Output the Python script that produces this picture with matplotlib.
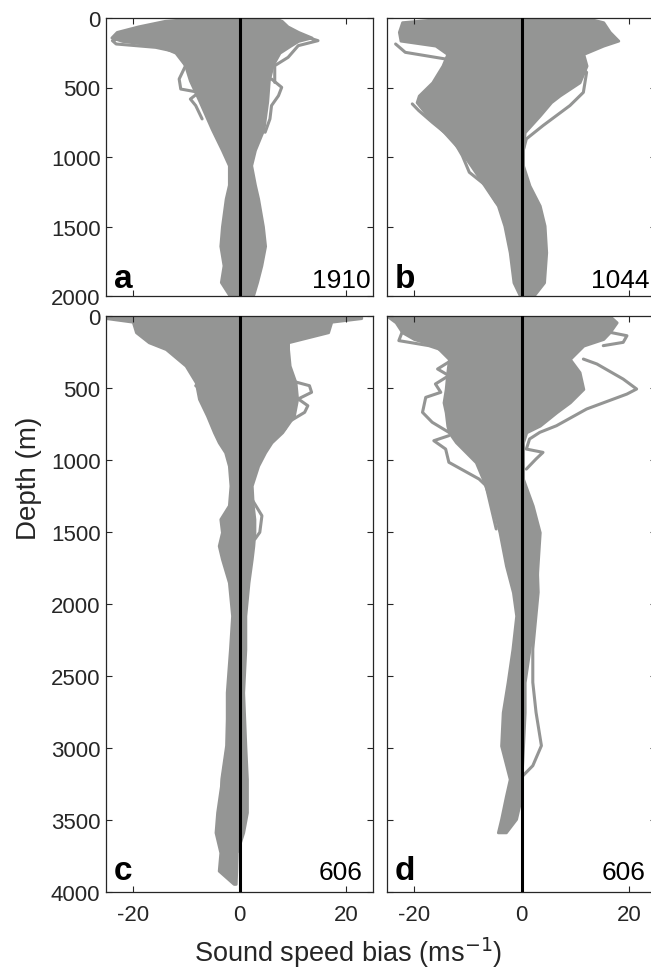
import matplotlib
matplotlib.use("Agg")
import matplotlib.pyplot as plt

plt.rcParams['font.family'] = ['Liberation Sans', 'DejaVu Sans']
plt.rcParams['axes.unicode_minus'] = False

GRAY = '#949594'

# Panel a: envelope of all profiles (depth, left edge, right edge) + outlier profiles
A_DEPTH = [0, 20, 60, 100, 140, 165, 200, 250, 340, 450, 600, 800, 950, 1060, 1200, 1300, 1500, 1640, 1780, 1900, 1990]
A_LEFT = [-7.6, -14, -19, -23, -24, -22, -15, -12, -10.2, -9.3, -7.5, -5.2, -3.3, -2.0, -2.0, -2.6, -3.3, -3.6, -3.0, -3.5, -2.0]
A_RIGHT = [6.6, 7.9, 9, 11, 13.5, 11, 9.5, 7.5, 6.2, 5.5, 5.2, 4.5, 2.9, 2.2, 2.9, 3.5, 4.4, 4.8, 4.1, 3.3, 2.6]
A_OUT = [
    ([-10.1, -20.0, -23.8, -23.1, -15.7, -11.3, -10.1], [43, 115, 163, 187, 211, 247, 343]),
    ([-10.1, -11.3, -11.0, -7.6, -9.2, -8.2, -7.0], [343, 439, 511, 535, 583, 630, 726]),
    ([3.5, 9.7, 14.7, 11.0, 9.1, 6.6, 6.6], [7, 103, 163, 199, 283, 343, 463]),
    ([6.0, 7.9, 7.3, 6.0, 5.7, 4.8], [439, 499, 559, 630, 726, 822]),
]

# Panel b
B_DEPTH = [0, 30, 100, 163, 199, 259, 343, 463, 558, 606, 702, 822, 942, 1062, 1206, 1350, 1494, 1686, 1902, 1991]
B_LEFT = [-13.5, -22.2, -22.8, -22.5, -16.0, -13.8, -14.7, -16.6, -19.1, -19.5, -17.5, -14.4, -11.6, -9.4, -6.9, -4.4, -3.2, -2.2, -1.5, -0.4]
B_RIGHT = [12.1, 15.2, 16.4, 18.0, 15.2, 11.5, 12.1, 10.8, 7.1, 5.5, 3.4, 0.6, 0.3, 0.3, 1.5, 3.4, 4.3, 4.6, 4.2, 2.4]
B_OUT = [
    ([-23.4, -21.6, -14.1, -13.1], [187, 247, 295, 343]),
    ([-20.3, -19.1, -16.6, -12.8, -11.0, -9.7, -6.6, -4.7], [618, 666, 750, 870, 990, 1110, 1206, 1326]),
    ([10.2, 12.1, 11.5, 9.0, 4.0, 0.9, 0.4], [319, 391, 535, 630, 774, 870, 942]),
]

# Panel c
C_DEPTH = [0, 15, 40, 113, 183, 230, 345, 461, 576, 692, 808, 878, 947, 1040, 1178, 1315, 1410, 1502, 1595, 1688, 1850, 2081, 2313, 2614, 2984, 3216, 3447, 3586, 3726, 3852, 3944]
C_LEFT = [-25, -25, -20, -19.4, -17.0, -13.8, -10.1, -8.2, -7.6, -6.1, -4.8, -3.9, -2.7, -2.0, -1.7, -2.0, -3.6, -3.3, -3.9, -3.3, -2.0, -1.4, -1.8, -2.4, -2.4, -3.3, -4.2, -4.5, -3.6, -3.9, -1.1]
C_RIGHT = [22.8, 22.8, 17.2, 16.6, 9.1, 9.1, 9.4, 10.5, 10.8, 10.2, 8.0, 6.0, 4.8, 3.5, 2.3, 2.5, 2.8, 2.8, 2.6, 2.3, 1.7, 1.1, 1.1, 0.7, 1.1, 1.4, 1.4, 0.7, -0.5, -0.6, -0.7]
C_OUT = [
    ([-6.4, -9.2, -8.2, -7.0, -8.2, -6.4], [333, 357, 414, 449, 484, 530]),
    ([8.5, 13.1, 13.5, 11.0, 12.8, 12.2, 9.1, 8.5], [438, 484, 530, 576, 623, 669, 738, 785]),
    ([2.3, 4.2, 3.8, 2.9], [1271, 1387, 1502, 1549]),
    ([-2.0, -2.4, -3.3, -3.4], [2521, 2984, 3216, 3343]),
]

# Panel d
D_DEPTH = [0, 44, 113, 160, 206, 299, 390, 507, 600, 669, 762, 808, 877, 1016, 1132, 1317, 1502, 1734, 1919, 2081, 2313, 2544, 2752, 2984, 3216, 3332, 3493, 3586]
D_LEFT = [-25, -23.4, -22.2, -20.0, -16.0, -13.5, -13.8, -14.1, -14.5, -14.1, -13.8, -13.5, -12.2, -8.5, -7.2, -5.4, -4.1, -2.9, -1.6, -1.0, -1.7, -2.6, -3.5, -3.8, -2.2, -2.9, -3.8, -4.4]
D_RIGHT = [16.4, 17.7, 16.4, 15.2, 11.5, 9.0, 10.8, 11.5, 9.0, 6.5, 3.4, 0.9, 0.3, 0.3, 0.3, 2.1, 3.4, 3.0, 2.7, 2.4, 1.5, 0.6, 0.6, 0.3, 0.0, 0.0, -1.0, -2.9]
D_OUT = [
    ([-22.5, -19.4, -22.2, -22.8, -17.2, -9.7], [44, 90, 113, 171, 206, 299]),
    ([-11.6, -15.6, -13.5, -16.0, -15.0, -17.8, -18.4, -16.6, -13.5], [275, 368, 414, 472, 530, 565, 669, 738, 808]),
    ([-13.5, -16.3, -14.1, -13.5, -7.9, -6.6, -4.7], [831, 866, 924, 1016, 1132, 1178, 1479]),
    ([11.5, 14.0, 18.9, 21.4, 19.6, 12.1, 6.5, 3.4, 1.5, 0.9, 4.0, 2.7, 0.9], [299, 333, 438, 507, 542, 646, 762, 808, 854, 924, 947, 993, 1063]),
    ([16.4, 19.6, 18.9, 15.2], [113, 137, 183, 206]),
    ([0.9, 2.7, 3.1, 2.1, 2.1, 2.7, 3.7, 2.1, 0.25], [1248, 1502, 1919, 2313, 2544, 2752, 2984, 3123, 3193]),
]

LETTERS = ['a', 'b', 'c', 'd']
COUNTS = ['1910', '1044', '606', '606']


def draw_panel(ax, depth, left, right, outliers, ymax, letter, count, count_x, text_y):
    ax.fill_betweenx(depth, left, right, color=GRAY, edgecolor=GRAY, lw=2, zorder=1)
    for xs, ds in outliers:
        ax.plot(xs, ds, color=GRAY, lw=2.2, solid_capstyle='round', zorder=2)
    ax.axvline(0, color='black', lw=2.2, zorder=3)
    ax.set_xlim(-25, 25)
    ax.set_ylim(ymax, 0)
    ax.set_xticks([-20, 0, 20])
    ax.set_yticks(range(0, ymax + 1, 500))
    ax.tick_params(direction='in', top=True, right=True, length=4, width=0.8,
                   labelsize=16, colors='#262626')
    ax.tick_params(axis='x', pad=9)
    ax.tick_params(axis='y', pad=4)
    for s in ax.spines.values():
        s.set_color('#262626')
        s.set_linewidth(0.9)
    ax.text(0.03, text_y, letter, transform=ax.transAxes,
            fontsize=24, fontweight='bold', ha='left', va='baseline')
    ax.text(count_x, text_y, count, transform=ax.transAxes,
            fontsize=19, ha='right', va='baseline')


fig = plt.figure(figsize=(6.51, 9.70), dpi=100)
W, H = 651.0, 970.0
ax_a = fig.add_axes([106 / W, 1 - 297 / H, 267 / W, 278 / H])
ax_b = fig.add_axes([387 / W, 1 - 297 / H, 269 / W, 278 / H])
ax_c = fig.add_axes([106 / W, 1 - 893 / H, 267 / W, 576 / H])
ax_d = fig.add_axes([387 / W, 1 - 893 / H, 269 / W, 576 / H])

draw_panel(ax_a, A_DEPTH, A_LEFT, A_RIGHT, A_OUT, 2000, LETTERS[0], COUNTS[0], 0.992, 0.032)
draw_panel(ax_b, B_DEPTH, B_LEFT, B_RIGHT, B_OUT, 2000, LETTERS[1], COUNTS[1], 0.975, 0.032)
draw_panel(ax_c, C_DEPTH, C_LEFT, C_RIGHT, C_OUT, 4000, LETTERS[2], COUNTS[2], 0.962, 0.0226)
draw_panel(ax_d, D_DEPTH, D_LEFT, D_RIGHT, D_OUT, 4000, LETTERS[3], COUNTS[3], 0.962, 0.0226)

ax_a.tick_params(labelbottom=False)
ax_b.tick_params(labelbottom=False, labelleft=False)
ax_d.tick_params(labelleft=False)

fig.text(29.5 / W, 1 - 478 / H, 'Depth (m)', rotation=90, fontsize=20,
         ha='center', va='center', color='#262626')
fig.text(194 / W, 1 - 962 / H, 'Sound speed bias (ms$^{-1}$)', fontsize=19.5,
         ha='left', va='baseline', color='#262626')

fig.savefig('out.png', dpi=100)
